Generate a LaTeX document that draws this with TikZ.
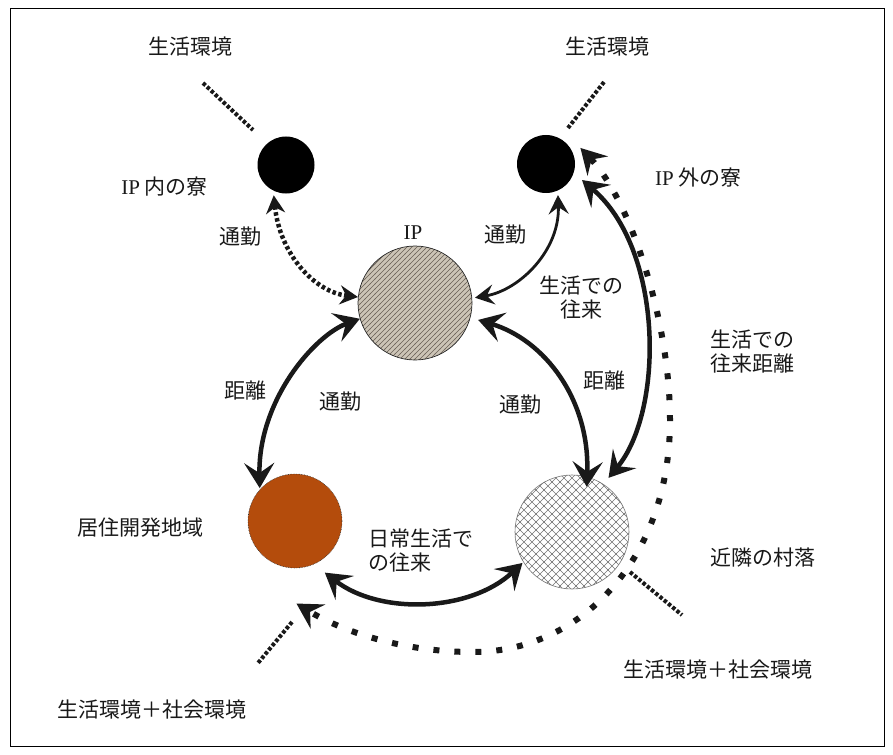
\documentclass[tikz,border=0pt]{standalone}
\usepackage{fontspec}
\setmainfont{Liberation Serif}
\newfontfamily\jp{Noto Sans CJK JP}
\usetikzlibrary{arrows.meta,patterns.meta,calc}

\tikzdeclarepattern{name=diaglines, type=uncolored,
  bottom left={(-.5pt,-.5pt)}, top right={(5.5pt,5.5pt)}, tile size={(5pt,5pt)},
  code={\draw[line width=.7pt] (-.5pt,-.5pt) -- (5.5pt,5.5pt);}}
\tikzdeclarepattern{name=xhatch, type=uncolored,
  bottom left={(-.5pt,-.5pt)}, top right={(8.5pt,8.5pt)}, tile size={(8pt,8pt)},
  code={\draw[line width=.5pt] (-.5pt,-.5pt) -- (8.5pt,8.5pt) (-.5pt,8.5pt) -- (8.5pt,-.5pt);}}

\definecolor{ipfill}{RGB}{204,196,182}
\definecolor{ipline}{RGB}{105,95,85}
\definecolor{resfill}{RGB}{180,76,12}
\definecolor{ink}{RGB}{25,25,25}

\tikzset{
  lbl/.style={font=\jp\fontsize{21}{24}\selectfont, inner sep=0pt, align=center, text=ink},
  dorm/.style={circle, fill=black, inner sep=0pt},
  thickarrow/.style={line width=4.5pt, draw=ink,
    {Stealth[length=25pt,width=30pt,inset=10pt]}-{Stealth[length=25pt,width=30pt,inset=10pt]}},
  medarrow/.style={line width=2.8pt, draw=ink,
    {Stealth[length=19pt,width=20pt,inset=7pt]}-{Stealth[length=19pt,width=20pt,inset=7pt]}},
  dotarrow/.style={line width=4.5pt, draw=ink, dash pattern=on 3.5pt off 2.5pt,
    {Stealth[length=18pt,width=19pt,inset=6pt]}-{Stealth[length=18pt,width=19pt,inset=6pt]}},
  bigdotarrow/.style={line width=6pt, draw=ink, dash pattern=on 6pt off 15pt,
    {Stealth[length=25pt,width=28pt,inset=9pt]}-{Stealth[length=25pt,width=28pt,inset=9pt]}},
  envline/.style={line width=4pt, draw=ink, dash pattern=on 3.5pt off 2pt}
}

\begin{document}
\begin{tikzpicture}[x=1pt,y=-1pt]
\useasboundingbox (0,0) rectangle (893,754);
\draw[line width=0.8pt] (10,8) rectangle (884,746);

% circles
\node[dorm, minimum size=57pt] (ipin) at (286,165) {};
\node[dorm, minimum size=58pt] (ipout) at (546,164) {};
\node[circle, inner sep=0pt, minimum size=114pt, draw=black!85, line width=.7pt,
  preaction={fill=ipfill}, pattern=diaglines, pattern color=ipline] (ip) at (415,303) {};
\node[circle, inner sep=0pt, minimum size=94pt, fill=resfill, draw=black!80,
  line width=.6pt, densely dotted] (res) at (295,521) {};
\node[circle, inner sep=0pt, minimum size=114pt, draw=black!55, line width=.6pt,
  preaction={fill=white}, pattern=xhatch, pattern color=black!55] (vil) at (572,532) {};

% environment dotted lines
\coordinate (e1a) at (203,83);  \coordinate (e1b) at (253,130);
\coordinate (e2a) at (604,82);  \coordinate (e2b) at (568,128);
\coordinate (e3a) at (292,622); \coordinate (e3b) at (258,663);
\coordinate (e4a) at (630,572); \coordinate (e4b) at (682,615);
\draw[envline] (e1a) -- (e1b);
\draw[envline] (e2a) -- (e2b);
\draw[envline] (e3a) -- (e3b);
\draw[envline] (e4a) -- (e4b);

% connectors
\draw[dotarrow] ($(ipin.center)!1.14!(ipin.248)$) .. controls (280,255) and (315,292) .. (ip.174);
\draw[medarrow] ($(ipout.center)!1.14!(ipout.291)$) .. controls (560,250) and (520,290) .. ($(ip.center)!1.05!(ip.5)$);
\draw[thickarrow] (ip.196) .. controls (315,335) and (258,400) .. ($(res.center)!1.02!(res.137)$);
\draw[thickarrow] ($(ip.center)!1.14!(ip.345)$) .. controls (545,340) and (590,400) .. ($(vil.center)!0.83!(vil.72)$);
\draw[thickarrow] ($(ipout.center)!1.35!(ipout.336)$) .. controls (664,250) and (664,411) .. ($(vil.center)!1.14!(vil.56)$);
\draw[thickarrow] ($(res.center)!1.26!(res.300.5)$) .. controls (380,615) and (470,612) .. ($(vil.center)!1.02!(vil.212)$);
\draw[bigdotarrow] ($(ipout.center)!1.3!(ipout.25)$) .. controls (630,200) and (670,320) .. (670,420)
  .. controls (670,560) and (580,652) .. (473,652)
  .. controls (400,652) and (340,630) .. ($(res.center)!1.745!(res.271.4)$);

% labels
\node[lbl] (envtl) at (190,47) {生活環境};
\node[lbl] (envtr) at (607,47) {生活環境};
\node[lbl, anchor=east] (lipin) at (208,187) {{\rmfamily IP} 内の寮};
\node[lbl, anchor=west] (lipout) at (655,178) {{\rmfamily IP} 外の寮};
\node[lbl] (c1) at (240,237) {通勤};
\node[lbl, font=\fontsize{21}{25}\selectfont] (lip) at (413,233) {IP};
\node[lbl] (c2) at (505,235) {通勤};
\node[lbl] (l1) at (581,298) {生活での\\往来};
\node[lbl] (l2) at (752,352) {生活での\\往来距離};
\node[lbl, anchor=east] (d1) at (267,391) {距離};
\node[lbl] (c3) at (340,402) {通勤};
\node[lbl] (c4) at (520,405) {通勤};
\node[lbl] (d2) at (604,381) {距離};
\node[lbl] (lres) at (140,528) {居住開発地域};
\node[lbl, align=left, anchor=west] (l3) at (368,551) {日常生活で\\の往来};
\node[lbl, anchor=west] (lvil) at (710,558) {近隣の村落};
\node[lbl] (envbl) at (152,710) {生活環境＋社会環境};
\node[lbl, anchor=west] (envbr) at (623,670) {生活環境＋社会環境};
\end{tikzpicture}
\end{document}
